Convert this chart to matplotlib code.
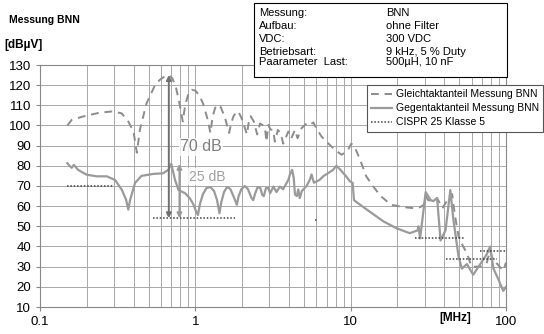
import matplotlib.pyplot as plt
from matplotlib.patches import Rectangle

plt.rcParams['font.family'] = ['Liberation Sans', 'DejaVu Sans']

# Gleichtaktanteil (dashed), frequency in MHz / level in dBuV
gt_f = [0.15, 0.16, 0.19, 0.243, 0.295, 0.336, 0.37, 0.4, 0.42, 0.44, 0.485, 0.55, 0.59, 0.625, 0.67,
        0.71, 0.75, 0.79, 0.83, 0.86, 0.9, 0.95, 1.0, 1.06, 1.12, 1.2, 1.25, 1.29, 1.34, 1.4, 1.46,
        1.55, 1.65, 1.7, 1.76, 1.83, 1.89, 1.98, 2.08, 2.15, 2.2, 2.27, 2.38, 2.5, 2.61, 2.8, 2.87,
        2.95, 3.05, 3.17, 3.25, 3.4, 3.55, 3.68, 3.97, 4.15, 4.38, 4.55, 4.83, 5.2, 5.45, 5.75, 6.0,
        6.5, 7.2, 7.95, 8.75, 9.6, 10.1, 10.6, 11.5, 12.6, 13.9, 15.6, 18.2, 22, 25.5, 28, 29.6,
        30.4, 31.5, 34, 36, 39, 42.7, 45, 47, 49.5, 53, 56, 60, 68, 75, 79, 81, 87, 96, 100]
gt_db = [100, 102.8, 104.5, 106.4, 107, 106, 102, 97, 86.5, 98, 111, 120, 122.6, 124, 125,
         123.5, 119, 111, 102, 110, 115.5, 117.7, 117.3, 115, 111, 103, 96.3, 104, 108.7, 110.3, 109,
         104, 96.3, 101, 104.6, 106.5, 107, 103.8, 99, 95.6, 101, 104.6, 102, 95.6, 101, 99.5, 92,
         100.3, 98, 97.8, 92, 97.8, 96, 91, 97, 93.7, 97.8, 93.7, 98.7, 101, 100.3, 101.5, 98.7,
         94.5, 91, 87.8, 85.5, 87.8, 91, 89.5, 83, 74.8, 70, 65, 60.7, 59.5, 59, 59.5, 60.7,
         65, 63, 62.5, 64, 59, 64, 66, 55, 45, 40, 36.7, 30, 30, 31.7, 38, 35, 31.7, 28, 32]

# Gegentaktanteil (solid)
dm_f = [0.15, 0.155, 0.16, 0.165, 0.176, 0.19, 0.2, 0.232, 0.269, 0.304, 0.336, 0.358, 0.37, 0.38,
        0.409, 0.45, 0.536, 0.62, 0.67, 0.70, 0.74, 0.78, 0.86, 0.92, 0.97, 1.01, 1.04, 1.07, 1.12,
        1.18, 1.25, 1.32, 1.38, 1.43, 1.47, 1.53, 1.6, 1.68, 1.78, 1.85, 1.9, 1.98, 2.08, 2.18, 2.3,
        2.36, 2.42, 2.52, 2.62, 2.7, 2.76, 2.85, 2.95, 3.03, 3.18, 3.33, 3.5, 3.67, 3.87, 3.97,
        4.06, 4.2, 4.3, 4.38, 4.5, 4.6, 4.7, 4.85, 5.2, 5.45, 5.6, 5.8, 6.3, 6.7, 7.2, 7.7, 8.1,
        8.6, 9.3, 9.9, 10.3, 10.5, 11, 12.6, 14, 16.3, 19.8, 24, 27, 27.3, 28, 30.4, 32.7, 34, 36,
        37.9, 40.8, 43.8, 45.9, 49.5, 52, 56, 61.5, 67.9, 75, 79, 83, 89, 96, 100]
dm_db = [81.3, 80, 79, 80.5, 78, 76.5, 75.6, 74.8, 74.8, 73, 68.2, 63.3, 58.3, 63,
         71.5, 75, 76, 76.3, 78, 81, 73, 68, 66.4, 64, 61, 57.5, 55.6, 61, 66,
         69, 69.5, 67.5, 63, 56.5, 62, 67, 69.5, 68.5, 64, 60.7, 65, 68.5, 70, 68.5, 64,
         63, 66, 69.5, 69, 65.5, 65, 69, 69, 66.4, 69.7, 67, 69.7, 68.4, 71.5, 73,
         75.6, 78, 74, 65.8, 65, 68.3, 64, 67.5, 70, 73, 75.7, 71.6, 73, 75, 76.5, 78, 80,
         78, 75, 72.3, 71.5, 63, 61.8, 58.5, 56, 52.4, 49, 46.6, 48, 50, 44, 67, 63, 62.5, 64,
         43, 48, 68, 53, 35, 29, 31.3, 26, 31, 36, 40, 29, 24, 18, 20]

# CISPR 25 Klasse 5 limit segments
cispr_start = [0.15, 0.53, 5.9, 26, 41, 68]
cispr_stop = [0.3, 1.8, 6.2, 54, 87, 108]
cispr_level = [70, 54, 53, 44, 34, 38]

info_keys = ['Messung:', 'Aufbau:', 'VDC:', 'Betriebsart:', 'Paarameter  Last:']
info_vals = ['BNN', 'ohne Filter', '300 VDC', '9 kHz, 5 % Duty', '500µH, 10 nF']

fig = plt.figure(figsize=(5.44, 3.34), dpi=100)
ax = fig.add_axes([40/544, 1-307/334, 466/544, 242/334])

ax.plot(gt_f, gt_db, color='#8c8c8c', lw=1.4, ls=(0, (4, 3)), label='Gleichtaktanteil Messung BNN')
ax.plot(dm_f, dm_db, color='#9a9a9a', lw=1.6, label='Gegentaktanteil Messung BNN')
for i in range(len(cispr_start)):
    ax.plot([cispr_start[i], cispr_stop[i]], [cispr_level[i]]*2, color='#404040', lw=1.1,
            ls=(0, (1, 1.2)), label='CISPR 25 Klasse 5' if i == 0 else None)

# level difference markers
ax.annotate('', xy=(0.675, 125), xytext=(0.675, 54),
            arrowprops=dict(arrowstyle='<|-|>', color='#707070', lw=1.4, mutation_scale=7, shrinkA=0, shrinkB=0))
ax.annotate('', xy=(0.79, 81), xytext=(0.79, 54),
            arrowprops=dict(arrowstyle='<|-|>', color='#9a9a9a', lw=1.4, mutation_scale=7, shrinkA=0, shrinkB=0))
ax.text(1.09, 89.4, '70 dB', color='#808080', fontsize=11.5, ha='center', va='center',
        bbox=dict(facecolor='white', edgecolor='none', alpha=0.8, pad=1))
ax.text(1.19, 74.6, '25 dB', color='#a0a0a0', fontsize=10, ha='center', va='center',
        bbox=dict(facecolor='white', edgecolor='none', alpha=0.8, pad=1))

ax.set_xscale('log')
ax.set_xlim(0.1, 100)
ax.set_ylim(10, 130)
ax.set_yticks(range(10, 131, 10))
ax.set_xticks([0.1, 1, 10, 100])
ax.set_xticklabels(['0.1', '1', '10', '100'])
ax.grid(True, which='both', color='#a8a8a8', lw=0.7)
ax.tick_params(which='both', labelsize=9.5, length=3, color='#888888')
ax.tick_params(which='minor', length=0)
for s in ax.spines.values():
    s.set_color('#888888')

fig.text(9/544, 1-20/334, 'Messung BNN', fontsize=7.5, fontweight='bold', va='center')
fig.text(4/544, 1-45/334, '[dBµV]', fontsize=8.5, fontweight='bold', va='center')
fig.text(439/544, 1-318/334, '[MHz]', fontsize=8.5, fontweight='bold', va='center')

# info box
fig.patches.append(Rectangle((254/544, 1-77/334), 253/544, 74/334, transform=fig.transFigure,
                             facecolor='white', edgecolor='black', lw=0.8, zorder=5))
rows_y = [13, 26, 39, 52, 62]
for k, v, y in zip(info_keys, info_vals, rows_y):
    fig.text(259/544, 1-y/334, k, fontsize=8, va='center', zorder=6)
    fig.text(386/544, 1-y/334, v, fontsize=8, va='center', zorder=6)

leg = ax.legend(loc='upper left', bbox_to_anchor=(367/544, 1-85/334), bbox_transform=fig.transFigure,
                fontsize=7.5, frameon=True, fancybox=False, edgecolor='#555555', framealpha=1,
                handlelength=2.0, handletextpad=0.4, borderpad=0.4, labelspacing=0.4, borderaxespad=0)
leg.get_frame().set_linewidth(0.8)

plt.savefig('out.png', dpi=100)
